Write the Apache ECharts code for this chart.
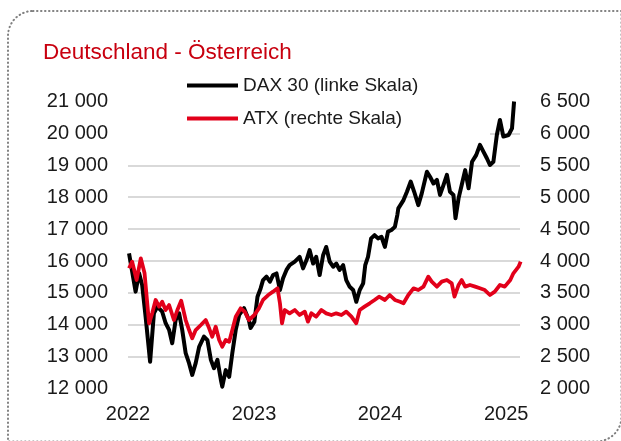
<!DOCTYPE html>
<html>
<head>
<meta charset="utf-8">
<script src="https://cdn.jsdelivr.net/npm/echarts@6/dist/echarts.min.js"></script>
<style>
html,body{margin:0;padding:0;background:#fff;}
#c{width:621px;height:441px;}
</style>
</head>
<body>
<div id="c"></div>
<script>
const titleText = 'Deutschland - Österreich';
const seriesNames = ['DAX 30 (linke Skala)', 'ATX (rechte Skala)'];
const xTicks = [2022, 2023, 2024, 2025];
const leftTicks = [12000, 21000, 1000];
const rightTicks = [2000, 6500, 500];

const daxDates = ['2022-01-04','2022-01-23','2022-02-02','2022-02-11','2022-02-21','2022-03-06','2022-03-17','2022-03-27','2022-04-10','2022-04-20',
'2022-04-30','2022-05-09','2022-05-19','2022-05-29','2022-06-07','2022-06-17','2022-06-27','2022-07-06','2022-07-16','2022-07-26',
'2022-08-09','2022-08-19','2022-08-29','2022-09-07','2022-09-17','2022-09-27','2022-10-01','2022-10-11','2022-10-21','2022-10-30',
'2022-11-09','2022-11-19','2022-12-03','2022-12-17','2022-12-22','2023-01-02','2023-01-11','2023-01-20','2023-01-27','2023-02-06',
'2023-02-16','2023-02-25','2023-03-07','2023-03-17','2023-03-26','2023-04-05','2023-04-14','2023-04-29','2023-05-13','2023-05-23',
'2023-06-02','2023-06-11','2023-06-21','2023-06-30','2023-07-10','2023-07-20','2023-07-29','2023-08-08','2023-08-18','2023-08-27',
'2023-09-06','2023-09-16','2023-09-25','2023-10-05','2023-10-15','2023-10-24','2023-11-03','2023-11-13','2023-11-19','2023-11-27',
'2023-12-06','2023-12-16','2023-12-26','2024-01-05','2024-01-15','2024-01-24','2024-02-03','2024-02-13','2024-02-20','2024-02-23',
'2024-03-09','2024-03-19','2024-03-30','2024-04-09','2024-04-21','2024-05-01','2024-05-16','2024-05-25','2024-06-04','2024-06-14',
'2024-06-23','2024-07-03','2024-07-13','2024-07-22','2024-08-01','2024-08-07','2024-08-16','2024-08-25','2024-09-04','2024-09-14',
'2024-09-24','2024-10-06','2024-10-17','2024-10-27','2024-11-06','2024-11-15','2024-11-25','2024-12-05','2024-12-14','2024-12-24',
'2025-01-08','2025-01-18','2025-01-24'];
const daxValues = [16240,15040,15620,15250,14250,12840,14360,14570,14410,14050,
13840,13420,14150,14360,13840,13110,12790,12430,12800,13310,
13630,13520,12900,12640,12900,12270,12060,12580,12370,13110,
13840,14310,14520,14150,13900,14100,14880,15140,15400,15510,
15350,15560,15610,15090,15460,15720,15870,15980,16130,15770,
16030,16340,15920,16130,15560,16180,16440,15980,15820,15920,
15720,15870,15400,15190,15090,14720,15090,15300,15870,16130,
16710,16810,16710,16760,16440,16920,16970,17070,17440,17650,
17910,18170,18490,18170,17750,18120,18800,18640,18430,18540,
18070,18380,18700,18170,18070,17340,17970,18380,18850,18280,
19110,19320,19640,19430,19220,19010,19110,19950,20420,19900,
19950,20160,21000];

const atxDates = ['2022-01-04','2022-01-13','2022-01-26','2022-02-07','2022-02-18','2022-03-03','2022-03-12','2022-03-22','2022-04-01','2022-04-10',
'2022-04-20','2022-04-30','2022-05-14','2022-05-24','2022-06-04','2022-06-17','2022-06-27','2022-07-06','2022-07-16','2022-07-31',
'2022-08-14','2022-08-24','2022-09-02','2022-09-12','2022-09-22','2022-10-01','2022-10-11','2022-10-21','2022-10-30','2022-11-09',
'2022-11-23','2022-12-05','2022-12-17','2023-01-02','2023-01-15','2023-01-27','2023-02-11','2023-02-25','2023-03-10','2023-03-17',
'2023-03-23','2023-03-31','2023-04-14','2023-04-29','2023-05-13','2023-05-28','2023-06-06','2023-06-16','2023-06-30','2023-07-15',
'2023-07-29','2023-08-13','2023-08-27','2023-09-11','2023-09-25','2023-10-10','2023-10-24','2023-11-03','2023-11-17','2023-12-02',
'2023-12-16','2023-12-29','2024-01-15','2024-01-29','2024-02-13','2024-02-28','2024-03-09','2024-03-23','2024-04-07','2024-04-21',
'2024-05-06','2024-05-20','2024-05-30','2024-06-14','2024-06-28','2024-07-13','2024-07-27','2024-08-04','2024-08-16','2024-08-25',
'2024-09-04','2024-09-18','2024-10-03','2024-10-17','2024-10-31','2024-11-15','2024-11-29','2024-12-14','2024-12-28','2025-01-13',
'2025-01-22','2025-02-06','2025-02-12'];
const atxValues = [3886,3990,3702,4042,3807,3023,3180,3389,3284,3362,
3232,3310,3075,3232,3378,3075,2918,2788,2918,2997,
3075,2945,2813,2970,2762,2657,2762,2735,2918,3127,
3258,3206,3075,3154,3258,3389,3467,3519,3572,3337,
3023,3232,3180,3232,3154,3206,3049,3180,3127,3232,
3180,3154,3180,3154,3206,3127,3023,3232,3284,3337,
3389,3441,3389,3467,3389,3362,3337,3467,3572,3545,
3598,3754,3676,3598,3676,3702,3650,3441,3624,3702,
3598,3624,3598,3572,3545,3467,3519,3624,3598,3702,
3807,3911,3990];

function toYear(s) {
  const p = s.split('-').map(Number);
  const start = Date.UTC(p[0], 0, 1), end = Date.UTC(p[0] + 1, 0, 1);
  return p[0] + (Date.UTC(p[0], p[1] - 1, p[2]) - start) / (end - start);
}
function fmt(v) {
  const s = String(Math.round(v));
  return s.length > 3 ? s.slice(0, s.length - 3) + ' ' + s.slice(-3) : s;
}
const FONT = "'Liberation Sans', Arial, sans-serif";
const TXT = '#1a1a1a';

const chart = echarts.init(document.getElementById('c'), null, {renderer: 'canvas'});
chart.setOption({
  animation: false,
  backgroundColor: '#fff',
  title: {
    text: titleText, left: 43, top: 41, padding: 0,
    textStyle: {fontFamily: FONT, fontSize: 22.5, fontWeight: 'normal', color: '#c8000f'}
  },
  legend: {
    orient: 'vertical', left: 187, top: 76, padding: 0, itemGap: 14,
    itemWidth: 51, itemHeight: 4, icon: 'rect',
    textStyle: {fontFamily: FONT, fontSize: 19, color: TXT, padding: [0, 0, 0, 0]},
    data: seriesNames
  },
  grid: {left: 128, right: 101, top: 101.5, bottom: 52.4, containLabel: false},
  graphic: [
    {type: 'rect', z: 1, silent: true, shape: {x: 128, y: 129, width: 362, height: 10}, style: {fill: '#fff'}},
    {type: 'rect', z: 100, silent: true,
     shape: {x: 8, y: 11, width: 613.5, height: 430.5, r: [25, 0, 25, 0]},
     style: {fill: null, stroke: '#808080', lineWidth: 2, lineDash: [0.5, 3.5], lineCap: 'round'}}
  ],
  xAxis: {
    type: 'value', min: xTicks[0], max: 2025.11, interval: 1,
    axisLine: {show: false}, axisTick: {show: false}, splitLine: {show: false},
    axisLabel: {
      fontFamily: FONT, fontSize: 20, color: TXT, margin: 16, showMaxLabel: false,
      formatter: v => xTicks.indexOf(Math.round(v)) >= 0 && Math.abs(v - Math.round(v)) < 1e-6 ? String(Math.round(v)) : ''
    }
  },
  yAxis: [
    {
      type: 'value', min: leftTicks[0], max: leftTicks[1], interval: leftTicks[2],
      axisLine: {show: false}, axisTick: {show: false},
      splitLine: {show: true, showMinLine: false, showMaxLine: false, lineStyle: {color: '#cccccc', width: 1.5}},
      axisLabel: {fontFamily: FONT, fontSize: 20, color: TXT, margin: 20, formatter: fmt}
    },
    {
      type: 'value', min: rightTicks[0], max: rightTicks[1], interval: rightTicks[2],
      axisLine: {show: false}, axisTick: {show: false}, splitLine: {show: false},
      axisLabel: {fontFamily: FONT, fontSize: 20, color: TXT, margin: 20, formatter: fmt}
    }
  ],
  series: [
    {
      name: seriesNames[0], type: 'line', yAxisIndex: 0, showSymbol: false, z: 3,
      color: '#000000', lineStyle: {color: '#000000', width: 4, join: 'round'},
      data: daxDates.map((d, i) => [toYear(d), daxValues[i]])
    },
    {
      name: seriesNames[1], type: 'line', yAxisIndex: 1, showSymbol: false, z: 4,
      color: '#e2001a', lineStyle: {color: '#e2001a', width: 3.8, join: 'round'},
      data: atxDates.map((d, i) => [toYear(d), atxValues[i]])
    }
  ]
});
</script>
</body>
</html>
